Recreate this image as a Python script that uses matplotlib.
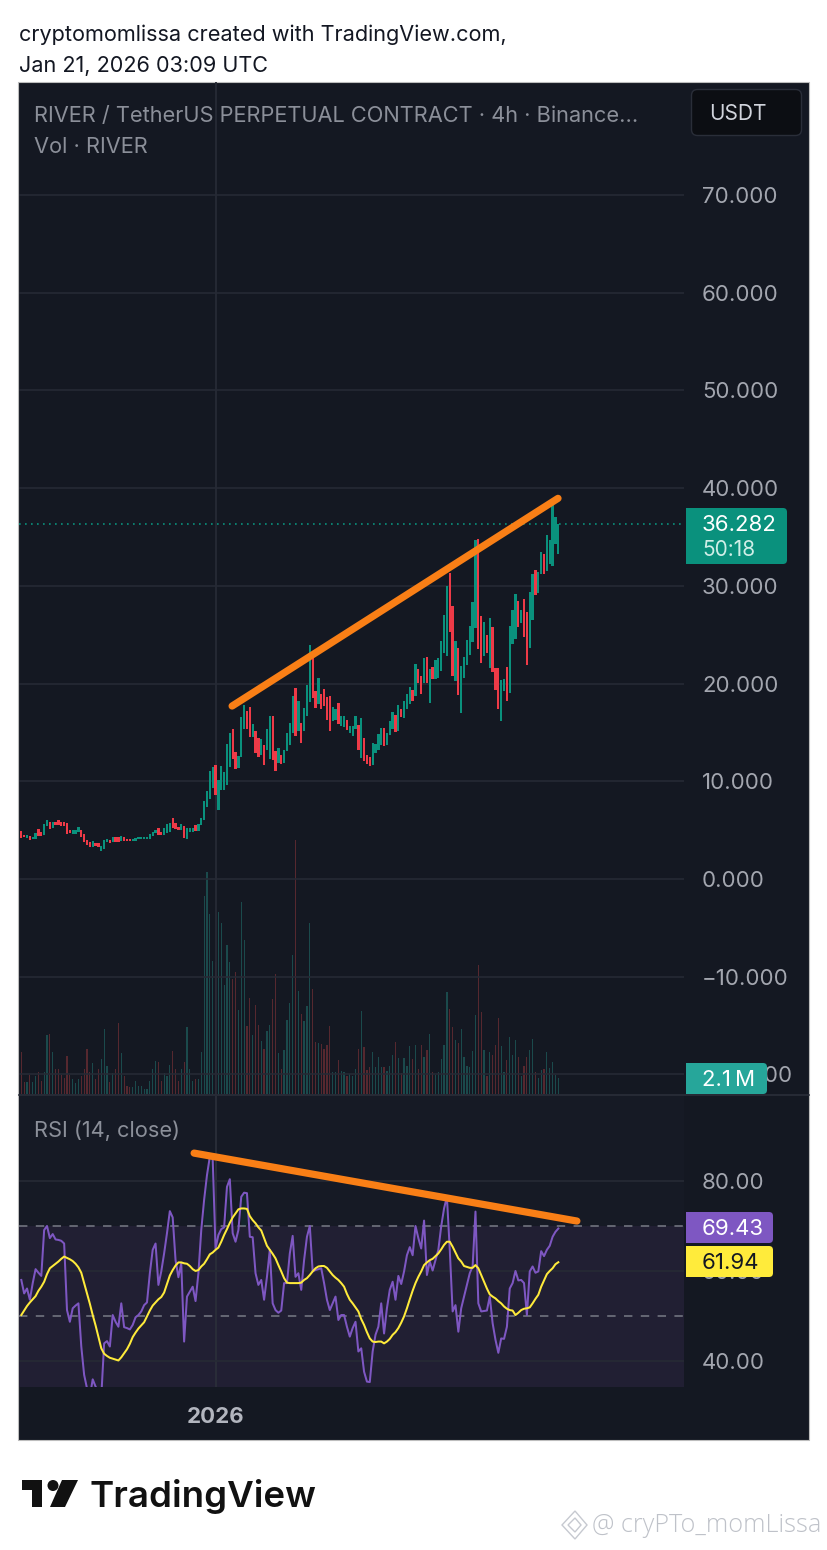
import numpy as np
import matplotlib
matplotlib.use("Agg")
import matplotlib.pyplot as plt
from matplotlib.patches import FancyBboxPatch, Polygon, Rectangle, Circle

plt.rcParams['font.family'] = ['Inter', 'DejaVu Sans']

# 4h candles
open_prices = [
    4.90, 4.49, 4.15, 4.42, 4.12, 4.05, 5.07, 4.83, 4.49, 5.44, 5.88, 5.27, 5.88, 6.02, 5.85, 5.82,
    5.68, 5.03, 4.59, 4.59, 4.83, 5.00, 4.59, 3.95, 3.74, 3.30, 3.67, 3.64, 2.89, 3.03, 3.74, 3.98,
    3.74, 4.25, 4.25, 3.91, 4.32, 4.12, 4.12, 3.84, 3.84, 4.05, 4.05, 4.08, 4.08, 4.12, 4.39, 4.66,
    5.20, 4.76, 4.49, 4.73, 4.80, 6.22, 5.68, 5.34, 5.00, 5.41, 4.05, 4.83, 4.83, 5.48, 4.93, 5.51,
    6.02, 7.38, 8.20, 9.30, 11.70, 7.10, 9.15, 9.15, 9.66, 11.44, 15.40, 13.01, 11.37, 12.46, 15.40, 17.18,
    17.59, 14.51, 15.13, 14.44, 12.67, 13.69, 13.25, 12.33, 16.66, 13.08, 11.88, 12.73, 11.88, 13.08, 13.76, 14.96,
    19.50, 15.13, 15.98, 15.13, 16.66, 18.13, 22.81, 19.23, 17.86, 18.88, 19.40, 18.61, 18.71, 16.15, 16.32, 17.96,
    15.64, 15.54, 16.22, 14.96, 14.61, 15.30, 15.74, 12.39, 14.44, 12.67, 12.53, 11.71, 12.90, 13.25, 13.76, 15.47,
    13.69, 14.72, 15.30, 16.77, 15.13, 17.38, 16.49, 17.35, 17.86, 19.30, 18.71, 21.45, 20.76, 20.08, 22.74, 18.06,
    21.69, 20.42, 20.59, 21.28, 23.16, 22.81, 31.35, 27.97, 20.25, 23.60, 16.94, 20.59, 21.86, 22.92, 24.28, 25.72,
    34.84, 26.91, 22.81, 24.97, 21.55, 25.79, 21.55, 21.55, 16.15, 19.23, 21.69, 19.02, 24.08, 24.52, 28.45, 26.23,
    28.69, 27.36, 23.67, 26.54, 31.66, 29.27, 31.18, 33.30, 31.53, 32.21, 32.07, 34.26, 33.23,
]
close_prices = [
    4.15, 4.32, 4.46, 3.98, 4.32, 4.73, 4.39, 4.42, 5.61, 6.02, 5.14, 5.88, 5.51, 5.48, 5.41, 5.41,
    4.59, 4.66, 5.00, 4.97, 5.37, 4.25, 3.81, 3.44, 3.27, 3.88, 3.33, 3.30, 3.40, 3.98, 4.08, 3.64,
    4.25, 3.74, 3.78, 4.39, 3.91, 3.84, 3.84, 4.12, 4.15, 4.29, 4.29, 4.29, 4.29, 4.56, 4.83, 5.00,
    4.49, 4.49, 5.17, 5.58, 5.75, 5.24, 5.10, 5.00, 5.61, 4.18, 5.27, 5.24, 5.27, 4.90, 5.61, 6.26,
    7.96, 8.98, 11.10, 11.50, 8.60, 10.10, 11.60, 10.90, 13.83, 14.95, 12.33, 11.30, 12.63, 16.56, 17.79, 15.30,
    14.51, 15.81, 12.90, 12.50, 14.37, 11.71, 15.30, 16.66, 12.22, 11.03, 13.42, 11.78, 13.25, 14.96, 15.98, 18.71,
    14.61, 18.20, 13.93, 17.45, 19.84, 23.94, 18.54, 17.52, 20.52, 17.35, 17.69, 16.32, 15.13, 17.59, 17.35, 15.81,
    16.66, 16.63, 15.20, 15.64, 15.64, 16.63, 13.25, 16.43, 12.05, 11.78, 11.54, 13.90, 13.86, 14.85, 15.47, 13.59,
    14.96, 16.15, 17.11, 15.06, 17.79, 16.56, 18.20, 18.88, 19.64, 18.20, 21.96, 20.08, 18.88, 22.64, 20.08, 21.45,
    20.42, 22.37, 22.57, 24.35, 26.98, 29.95, 25.31, 20.76, 24.35, 18.82, 21.79, 22.71, 24.49, 25.89, 28.38, 34.67,
    23.50, 22.13, 26.30, 23.16, 26.74, 21.21, 19.33, 17.38, 20.35, 20.46, 18.20, 25.85, 27.49, 29.13, 25.82, 27.49,
    24.80, 21.89, 29.37, 31.25, 29.07, 31.46, 33.47, 31.18, 35.18, 34.67, 38.26, 36.99, 36.28,
]
# volume in millions
volume = [
    5.4, 1.5, 1.6, 2.5, 1.5, 2.3, 2.8, 1.7, 2.9, 7.7, 7.8, 5.4, 3.2, 3.2, 2.5, 2.1,
    4.9, 2.5, 1.9, 1.4, 1.9, 2.3, 3.2, 5.9, 2.9, 4.0, 1.9, 3.2, 4.6, 8.4, 3.6, 1.6,
    2.7, 3.3, 9.2, 5.3, 2.3, 1.1, 0.9, 0.9, 1.7, 1.0, 1.0, 0.7, 0.6, 1.7, 3.2, 4.3,
    4.2, 1.7, 2.7, 2.3, 3.8, 5.6, 3.2, 1.7, 3.3, 4.1, 8.7, 3.2, 1.7, 1.9, 2.0, 5.4,
    25.7, 28.8, 23.4, 17.3, 17.2, 23.6, 22.2, 14.2, 19.4, 17.2, 14.9, 15.8, 10.9, 24.9, 20.0, 8.8,
    12.5, 7.7, 11.6, 9.0, 6.9, 5.9, 8.2, 9.0, 12.3, 15.6, 5.3, 3.2, 5.7, 9.6, 11.8, 18.1,
    33.0, 13.4, 10.4, 9.5, 11.4, 22.2, 13.6, 6.8, 6.6, 6.5, 5.9, 6.4, 8.8, 2.8, 2.8, 4.4,
    3.0, 2.8, 2.4, 2.6, 2.3, 3.2, 5.8, 10.8, 6.1, 3.1, 3.5, 5.5, 3.5, 4.8, 3.5, 3.5,
    3.0, 3.6, 5.1, 6.8, 4.7, 2.7, 4.7, 3.6, 6.2, 4.6, 6.4, 3.2, 6.4, 4.8, 5.7, 7.8,
    2.9, 2.5, 2.9, 4.6, 6.3, 13.2, 11.0, 8.7, 7.0, 6.6, 8.4, 4.8, 3.6, 3.5, 5.6, 10.3,
    16.7, 10.7, 5.7, 2.3, 5.4, 5.1, 6.4, 9.9, 6.2, 2.8, 4.4, 7.4, 5.1, 7.0, 4.8, 2.3,
    3.6, 4.8, 5.7, 7.1, 2.9, 2.1, 3.1, 3.2, 5.4, 3.4, 4.2, 2.5, 2.1,
]
rsi = [
    58.0, 55.0, 56.1, 53.6, 57.3, 60.4, 59.6, 58.9, 69.1, 70.0, 67.3, 68.2, 67.0, 66.9, 66.7, 66.1,
    51.3, 48.7, 51.7, 52.3, 52.8, 43.2, 36.9, 33.9, 32.1, 35.9, 34.3, 33.2, 32.1, 43.9, 44.4, 43.2,
    50.2, 48.7, 47.6, 52.8, 47.5, 47.3, 47.0, 48.0, 49.7, 50.2, 51.0, 52.4, 53.0, 59.5, 64.7, 66.1,
    56.9, 59.9, 63.9, 68.4, 73.3, 71.9, 62.4, 58.6, 61.7, 44.3, 54.3, 55.4, 56.5, 53.3, 59.5, 69.1,
    75.8, 81.3, 85.4, 85.0, 65.0, 68.0, 69.3, 69.7, 78.7, 80.4, 68.4, 66.5, 69.1, 76.5, 77.4, 77.3,
    67.6, 67.5, 59.5, 56.9, 58.0, 53.6, 58.7, 64.7, 52.8, 51.3, 50.7, 51.2, 57.3, 57.3, 63.9, 67.8,
    58.7, 59.5, 55.8, 62.4, 67.6, 70.0, 59.9, 60.2, 60.4, 60.6, 57.3, 53.6, 51.3, 52.8, 54.3, 49.1,
    50.2, 50.2, 47.6, 45.4, 47.3, 48.7, 42.1, 42.8, 37.6, 35.4, 35.3, 42.1, 45.8, 47.6, 52.8, 46.1,
    51.7, 55.8, 57.6, 53.6, 58.9, 57.1, 59.9, 63.5, 65.3, 63.5, 70.0, 67.3, 65.0, 71.2, 59.1, 62.1,
    60.1, 62.4, 64.7, 69.9, 73.9, 76.5, 64.7, 51.0, 52.4, 46.5, 51.7, 54.3, 56.9, 59.5, 61.0, 73.2,
    52.8, 51.0, 51.1, 51.2, 54.3, 48.4, 44.7, 41.8, 45.0, 44.9, 47.6, 56.1, 57.3, 60.0, 57.9, 58.0,
    57.3, 50.2, 59.9, 61.0, 59.6, 59.9, 64.4, 63.3, 64.7, 65.6, 67.6, 68.7, 69.43,
]
rsi_ma = [
    50.2, 51.2, 52.2, 53.0, 53.7, 54.4, 55.6, 56.5, 57.6, 59.3, 60.6, 61.1, 61.6, 62.1, 62.7, 63.2,
    62.9, 62.6, 62.2, 61.6, 60.8, 59.6, 57.3, 55.0, 52.7, 50.2, 47.9, 45.4, 42.8, 41.6, 41.1, 40.7,
    40.5, 40.3, 40.1, 40.8, 41.7, 42.6, 43.8, 45.3, 46.3, 47.2, 47.9, 48.6, 49.9, 51.2, 52.3, 53.0,
    53.7, 54.2, 55.2, 57.1, 59.0, 60.2, 61.2, 61.9, 61.9, 61.7, 61.6, 61.1, 60.4, 60.0, 60.2, 61.0,
    61.6, 62.6, 63.7, 64.1, 64.7, 65.2, 66.5, 68.0, 69.3, 70.7, 71.9, 72.8, 73.7, 73.9, 73.9, 73.8,
    72.2, 71.3, 70.6, 69.7, 69.0, 67.3, 65.6, 64.7, 63.8, 62.8, 61.3, 59.9, 58.4, 57.4, 57.3, 57.3,
    57.3, 57.3, 57.4, 58.0, 58.4, 59.1, 59.9, 60.6, 61.0, 61.1, 61.1, 60.7, 59.9, 59.1, 58.5, 58.0,
    57.3, 56.5, 54.9, 53.6, 52.8, 51.9, 51.0, 49.3, 48.0, 46.4, 45.0, 44.3, 44.2, 44.3, 44.3, 43.9,
    44.3, 44.9, 45.8, 46.4, 47.3, 48.5, 49.9, 51.7, 53.7, 55.6, 57.3, 58.7, 59.9, 61.3, 61.9, 62.4,
    62.7, 63.3, 63.9, 64.8, 65.8, 66.5, 66.5, 65.4, 64.1, 62.8, 62.1, 61.1, 60.9, 60.7, 60.7, 61.3,
    60.6, 59.1, 57.6, 56.1, 54.8, 54.3, 53.9, 53.3, 52.8, 52.1, 51.6, 51.3, 51.2, 50.2, 50.7, 51.3,
    51.6, 51.7, 51.9, 52.8, 53.8, 54.7, 56.5, 57.9, 59.3, 60.0, 60.6, 61.5, 61.94,
]

price_ticks = [70, 60, 50, 40, 30, 20, 10, 0, -10, -20]
price_labels = ['70.000', '60.000', '50.000', '40.000', '30.000', '20.000', '10.000', '0.000', '\u221210.000', '\u221220.000']
rsi_ticks = [80, 60, 40]
rsi_labels = ['80.00', '60.00', '40.00']
last_price = 36.282
# hand drawn trend lines: (bar, value)
price_trend_x = [73.8, 187.9]
price_trend_y = [17.7, 38.95]
rsi_trend_x = [60.5, 194.5]
rsi_trend_y = [86.2, 71.1]
year_bar = 68

GREEN = '#0a917d'
RED = '#ee3a47'
VOL_GREEN = '#1b4a4c'
VOL_RED = '#56282f'
GRID = '#262a35'
PANEL = '#141822'
TEXT = '#8b8f99'
AXIS_TEXT = '#a3a6af'

W, H = 828, 1550
fig = plt.figure(figsize=(W / 100, H / 100), dpi=100, facecolor='white')


def pane(left, top, right, bottom, **kw):
    return fig.add_axes([left / W, 1 - bottom / H, (right - left) / W, (bottom - top) / H], **kw)


fig.add_artist(Rectangle((18.5 / W, 1 - 1439.5 / H), 791 / W, 1358 / H, transform=fig.transFigure,
                         fc=PANEL, ec='#bdbdbd', lw=0.8, zorder=-1))

bars = np.arange(len(close_prices))
opens = np.array(open_prices)
closes = np.array(close_prices)
up = closes >= opens
xlim = (-0.805, 232.0)

# volume sits under the candles in the same pane
ax_vol = pane(19, 82, 684, 1095, zorder=1)
ax_vol.set_facecolor('none')
ax_vol.bar(bars, volume, width=0.42, color=[VOL_GREEN if u else VOL_RED for u in up])
ax_vol.set_xlim(xlim)
ax_vol.set_ylim(-0.13, 131.4)
ax_vol.axis('off')

ax = pane(19, 82, 684, 1095, zorder=2)
ax.set_facecolor('none')
ax.bar(bars, closes - opens, bottom=opens, width=0.8, color=[GREEN if u else RED for u in up], zorder=3)
ax.axhline(last_price, color=GREEN, lw=1.2, ls=(0, (1, 2.6)), zorder=2)
ax.axvline(year_bar, color=GRID, lw=1.3, zorder=1)
ax.plot(price_trend_x, price_trend_y, color='#f97f16', lw=5.2, solid_capstyle='round', zorder=5)
ax.set_xlim(xlim)
ax.set_ylim(-22.1, 81.55)
ax.set_xticks([])
ax.yaxis.tick_right()
ax.set_yticks(price_ticks, price_labels)
ax.tick_params(axis='y', length=0, pad=13, labelsize=16, labelcolor=AXIS_TEXT)
ax.grid(axis='y', color=GRID, lw=1.2, zorder=1)
for s in ax.spines.values():
    s.set_visible(False)

# RSI pane
ax_rsi = pane(19, 1096, 684, 1387, zorder=2)
ax_rsi.set_facecolor('#161a25')
ax_rsi.axhspan(30, 70, color='#211f33', lw=0, zorder=0)
ax_rsi.axvline(year_bar, color='#2a2e39', lw=1.3, zorder=1)
ax_rsi.axhline(70, color='#787b86', lw=1.1, ls=(0, (5.5, 5.5)), zorder=1)
ax_rsi.axhline(50, color='#787b86', lw=1.1, ls=(0, (5.5, 5.5)), zorder=1)
ax_rsi.fill_between(np.arange(len(rsi)), 70, rsi, where=np.array(rsi) > 70, color=GREEN, alpha=0.1, lw=0, zorder=1)
ax_rsi.plot(np.arange(len(rsi)), rsi, color='#7e57c2', lw=1.45, zorder=3)
ax_rsi.plot(np.arange(len(rsi_ma)), rsi_ma, color='#ffeb3b', lw=1.45, zorder=4)
ax_rsi.plot(rsi_trend_x, rsi_trend_y, color='#f97f16', lw=5.2, solid_capstyle='round', zorder=5)
ax_rsi.set_xlim(xlim)
ax_rsi.set_ylim(34.2, 98.9)
ax_rsi.set_xticks([])
ax_rsi.yaxis.tick_right()
ax_rsi.set_yticks(rsi_ticks, rsi_labels)
ax_rsi.tick_params(axis='y', length=0, pad=13, labelsize=16, labelcolor=AXIS_TEXT)
ax_rsi.grid(axis='y', color=GRID, lw=1.2, zorder=1)
for s in ax_rsi.spines.values():
    s.set_visible(False)

# page furniture in pixel coordinates
ui = fig.add_axes([0, 0, 1, 1], zorder=10)
ui.set_xlim(0, W)
ui.set_ylim(H, 0)
ui.axis('off')
ui.patch.set_visible(False)


def tag(x0, y0, x1, y1, color):
    ui.add_patch(FancyBboxPatch((x0, y0), x1 - x0, y1 - y0, boxstyle='round,pad=0,rounding_size=4', fc=color, ec='none'))
    ui.add_patch(Rectangle((x0, y0), 8, y1 - y0, fc=color, ec='none'))


ui.plot([19, 809], [1095, 1095], color='#2a2e39', lw=1.2)
ui.text(19, 35, 'cryptomomlissa created with TradingView.com,', fontsize=15.6, color='#131722', va='center')
ui.text(19, 66, 'Jan 21, 2026 03:09 UTC', fontsize=15.6, color='#131722', va='center')
ui.text(34, 116, 'RIVER / TetherUS PERPETUAL CONTRACT \u00b7 4h \u00b7 Binance...', fontsize=15.7, color=TEXT, va='center')
ui.text(34, 147, 'Vol \u00b7 RIVER', fontsize=15.7, color=TEXT, va='center')
ui.text(34, 1131, 'RSI (14, close)', fontsize=15.7, color=TEXT, va='center')
ui.text(215.5, 1417, '2026', fontsize=16, color='#b2b5be', fontweight='bold', va='center', ha='center')

ui.add_patch(FancyBboxPatch((691.5, 89.5), 110, 46, boxstyle='round,pad=0,rounding_size=6', fc='#0c0e13', ec='#2a2e39', lw=1))
ui.text(738, 114, 'USDT', fontsize=15, color='#d1d4dc', va='center', ha='center')

tag(686, 508, 787, 564, GREEN)
ui.text(702, 525, '36.282', fontsize=16, color='white', va='center')
ui.text(702, 550, '50:18', fontsize=15, color='#cfeee7', va='center')
tag(686, 1063, 767, 1094, '#26a69a')
ui.text(702, 1080, '2.1\u2009M', fontsize=16, color='white', va='center')
tag(686, 1212, 773, 1243, '#7e57c2')
ui.text(702, 1229, '69.43', fontsize=16, color='white', va='center')
tag(686, 1246, 773, 1277, '#ffeb3b')
ui.text(702, 1263, '61.94', fontsize=16, color='#131722', va='center')

# TradingView logo
ui.add_patch(Polygon([(22, 1480), (42, 1480), (42, 1507), (32, 1507), (32, 1490), (22, 1490)], fc='#111111', ec='none'))
ui.add_patch(Circle((53, 1485.5), 5.5, fc='#111111', ec='none'))
ui.add_patch(Polygon([(62, 1480), (78, 1480), (65, 1507), (50, 1507)], fc='#111111', ec='none'))
ui.text(90, 1497, 'TradingView', fontsize=26.4, color='#111111', fontweight='semibold', va='center')

# watermark
ui.add_patch(Polygon([(575, 1511), (587, 1525), (575, 1539), (562, 1525)], fc='none', ec='#c6c9d0', lw=1))
ui.add_patch(Polygon([(575, 1518), (581, 1525), (575, 1532), (568, 1525)], fc='none', ec='#c6c9d0', lw=1))
ui.text(592, 1526, '@ cryPTo_momLissa', fontsize=18.2, color='#bfc2c9', va='center', family=['Open Sans', 'DejaVu Sans'], fontweight='light')

fig.savefig('out.png', dpi=100)
